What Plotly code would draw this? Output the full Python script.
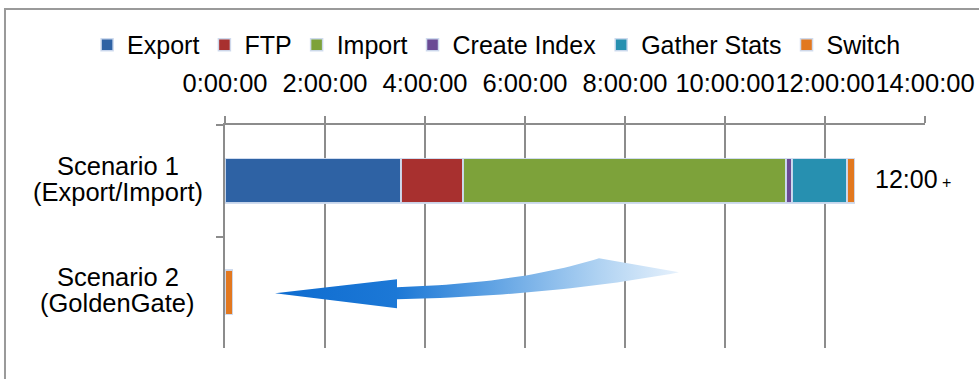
import numpy as np
import plotly.graph_objects as go

# --- data -------------------------------------------------------------
scenarios = ["Scenario 1<br>(Export/Import)", "Scenario 2<br>(GoldenGate)"]
phases = ["Export", "FTP", "Import", "Create Index", "Gather Stats", "Switch"]
# duration of each phase per scenario, in hours
export_h = [3.52, 0.0]
ftp_h = [1.24, 0.0]
import_h = [6.46, 0.0]
create_index_h = [0.12, 0.0]
gather_stats_h = [1.10, 0.0]
switch_h = [0.15, 0.15]
tick_hours = [0, 2, 4, 6, 8, 10, 12, 14]
tick_labels = ["0:00:00", "2:00:00", "4:00:00", "6:00:00", "8:00:00",
               "10:00:00", "12:00:00", "14:00:00"]
total_note = "12:00"

durations = [export_h, ftp_h, import_h, create_index_h, gather_stats_h, switch_h]
colors = ["#2e62a4", "#a8302f", "#7da23a", "#6a4a94", "#2790b0", "#e2781f"]

FONT = "Liberation Sans, Arial, sans-serif"
GRID = "#8c8c8c"

fig = go.Figure()

for name, vals, col in zip(phases, durations, colors):
    fig.add_trace(go.Bar(
        name=name, y=scenarios, x=vals, orientation="h",
        marker=dict(color=col, line=dict(color="rgba(205,218,238,0.95)", width=1.5)),
        hoverinfo="x+name",
    ))

# decorative curved arrow pointing back toward zero (overlay axis in category units)
def bezier(p0, p1, p2, n=30):
    t = np.linspace(0, 1, n)[:, None]
    p0, p1, p2 = map(np.array, (p0, p1, p2))
    return (1 - t) ** 2 * p0 + 2 * (1 - t) * t * p1 + t ** 2 * p2

top_edge = bezier((3.44, 0.955), (5.9, 0.92), (7.48, 0.695))
bottom_edge = bezier((9.08, 0.821), (6.6, 1.03), (3.44, 1.063))
outline = np.vstack([
    [[1.0, 1.009], [3.44, 0.883]],
    top_edge,
    bottom_edge,
    [[3.44, 1.143], [1.0, 1.009]],
])
fig.add_trace(go.Scatter(
    x=outline[:, 0], y=outline[:, 1], yaxis="y2", mode="lines",
    line=dict(width=0), fill="toself",
    fillgradient=dict(type="horizontal", colorscale=[
        [0.0, "rgb(14,108,208)"], [0.3, "rgb(28,120,214)"],
        [0.55, "rgb(100,165,228)"], [0.8, "rgb(175,210,242)"],
        [1.0, "rgb(230,241,252)"]]),
    showlegend=False, hoverinfo="skip",
))

# category labels, two centred lines each
for s in scenarios:
    first, second = s.split("<br>")
    for line, shift in ((first, 15), (second, -11)):
        fig.add_annotation(x=-0.153, xref="paper", y=s, yref="y", text=line,
                           showarrow=False, xanchor="center", yanchor="middle",
                           yshift=shift, font=dict(family=FONT, size=25.5, color="#000"))

fig.add_annotation(x=12.96, y=scenarios[0], xref="x", yref="y",
                   text=total_note + "<span style='font-size:16px'> +</span>",
                   showarrow=False, xanchor="left", yanchor="middle", yshift=2,
                   font=dict(family=FONT, size=25, color="#000"))

# outer frame
fig.add_shape(type="rect", xref="paper", yref="paper",
              x0=-0.3143, x1=1.3, y0=-0.3, y1=1.52,
              line=dict(color="#9a9a9a", width=2), fillcolor="rgba(0,0,0,0)", layer="below")

fig.update_layout(
    width=979, height=379,
    margin=dict(l=225, r=54, t=125, b=31, autoexpand=False),
    paper_bgcolor="white", plot_bgcolor="white",
    barmode="stack", bargap=0.605,
    font=dict(family=FONT, size=25, color="#000"),
    showlegend=True,
    legend=dict(orientation="h", x=-0.197, xanchor="left", y=1.359, yanchor="middle",
                font=dict(family=FONT, size=25, color="#000"),
                bgcolor="rgba(0,0,0,0)", traceorder="normal"),
    xaxis=dict(side="top", range=[0, 14], tickvals=tick_hours, ticktext=tick_labels,
               tickangle=0,
               showgrid=True, gridcolor=GRID, gridwidth=1.5,
               showline=True, linecolor=GRID, linewidth=1.5,
               ticks="outside", ticklen=7, tickcolor=GRID, tickwidth=1.5,
               ticklabelstandoff=14, zeroline=False, automargin=False,
               tickfont=dict(family=FONT, size=25.5, color="#000")),
    yaxis=dict(type="category", range=[1.5, -0.5], showticklabels=False,
               showline=True, linecolor=GRID, linewidth=1.5,
               ticks="outside", ticklen=7, tickcolor=GRID, tickwidth=1.5,
               tickson="boundaries", showgrid=False, automargin=False),
    yaxis2=dict(overlaying="y", range=[1.5, -0.5], visible=False),
)

fig.write_html("out.html")
